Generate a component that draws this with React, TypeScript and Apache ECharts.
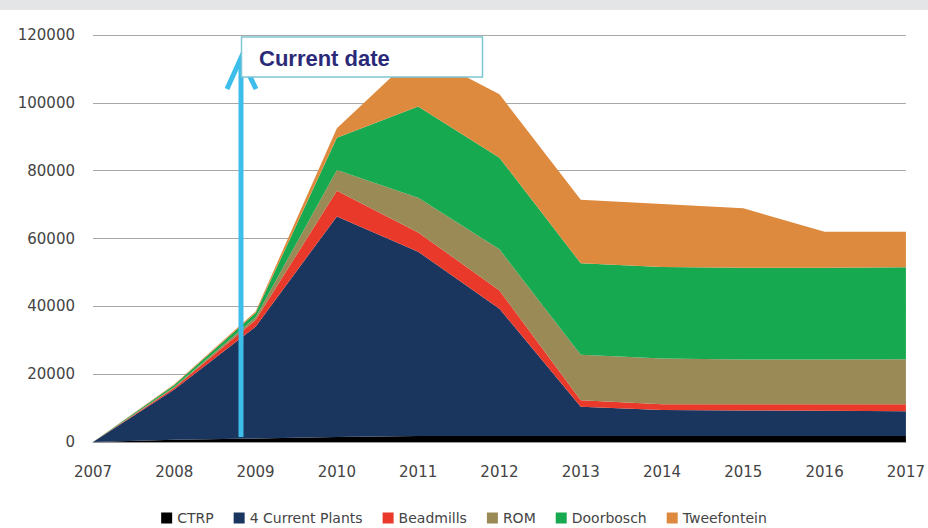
import React, { useEffect, useRef } from "react";
import * as echarts from "echarts";

const years = ["2007", "2008", "2009", "2010", "2011", "2012", "2013", "2014", "2015", "2016", "2017"];
const ctrp = [0, 700, 1000, 1500, 1800, 1800, 1800, 1800, 1800, 1800, 1800];
const currentPlants = [0, 14800, 33000, 65000, 54300, 37500, 8600, 7600, 7500, 7400, 7300];
const beadmills = [0, 500, 2000, 7600, 5700, 5400, 1900, 1700, 1800, 1900, 2000];
const rom = [0, 200, 800, 6100, 10200, 12100, 13400, 13500, 13200, 13200, 13300];
const doorbosch = [0, 600, 1200, 9500, 26900, 27000, 27000, 27000, 27100, 27100, 27100];
const tweefontein = [0, 200, 500, 2800, 16100, 18700, 18700, 18600, 17500, 10600, 10500];

const seriesNames = ["CTRP", "4 Current Plants", "Beadmills", "ROM", "Doorbosch", "Tweefontein"];
const seriesData = [ctrp, currentPlants, beadmills, rom, doorbosch, tweefontein];
const seriesColors = ["#000000", "#1b365e", "#e8392a", "#9a8a55", "#17a94f", "#de8a3e"];

export default function App() {
  const ref = useRef<HTMLDivElement>(null);
  useEffect(() => {
    if (!ref.current) return;
    const chart = echarts.init(ref.current, undefined, { renderer: "svg" });
    const font = "DejaVu Sans";
    chart.setOption({
      animation: false,
      backgroundColor: "#ffffff",
      grid: { left: 93, right: 18, top: 35, bottom: 86, containLabel: false },
      legend: {
        data: seriesNames,
        left: "center",
        top: 510,
        padding: 0,
        itemWidth: 11,
        itemHeight: 11,
        itemGap: 20,
        icon: "rect",
        textStyle: { fontFamily: font, fontSize: 14, color: "#444", lineHeight: 16 },
      },
      xAxis: {
        type: "category",
        data: years,
        boundaryGap: false,
        axisLine: { lineStyle: { color: "#999", width: 1 } },
        axisTick: { show: false },
        axisLabel: { fontFamily: font, fontSize: 15, color: "#444", margin: 22 },
      },
      yAxis: {
        type: "value",
        min: 0,
        max: 120000,
        interval: 20000,
        axisLine: { show: false },
        axisTick: { show: false },
        axisLabel: {
          fontFamily: font,
          fontSize: 15,
          color: "#444",
          margin: 18,
          formatter: (v: number) => String(v),
        },
        splitLine: { lineStyle: { color: "#a8a8a8", width: 1.2 } },
      },
      series: seriesNames.map((name, i) => ({
        name,
        type: "line",
        stack: "total",
        data: seriesData[i],
        showSymbol: false,
        symbol: "none",
        lineStyle: { width: 0 },
        areaStyle: { color: seriesColors[i], opacity: 1 },
        itemStyle: { color: seriesColors[i] },
        z: 2 + i,
      })),
      graphic: [
        {
          type: "rect",
          shape: { x: 0, y: 0, width: 928, height: 10 },
          style: { fill: "#e4e5e7" },
          z: 50,
        },
        {
          type: "line",
          shape: { x1: 241, y1: 437, x2: 241, y2: 60 },
          style: { stroke: "#3dbde9", lineWidth: 5 },
          z: 60,
        },
        {
          type: "polyline",
          shape: { points: [[227, 89], [241, 58], [256, 89]] },
          style: { stroke: "#3dbde9", lineWidth: 5, fill: null, lineJoin: "miter" },
          z: 60,
        },
        {
          type: "rect",
          shape: { x: 241.5, y: 37, width: 241, height: 40 },
          style: { fill: "#ffffff", stroke: "#7ec6d2", lineWidth: 1.5 },
          z: 70,
        },
        {
          type: "text",
          x: 259,
          y: 58,
          style: {
            text: "Current date",
            fontFamily: "Liberation Sans",
            fontWeight: "bold",
            fontSize: 22,
            fill: "#2b2a78",
            verticalAlign: "middle",
            textAlign: "left",
          },
          z: 71,
        },
      ],
    });
    return () => chart.dispose();
  }, []);
  return (
    <div
      ref={ref}
      style={{ position: "absolute", left: 0, top: 0, width: 928, height: 528 }}
    />
  );
}
